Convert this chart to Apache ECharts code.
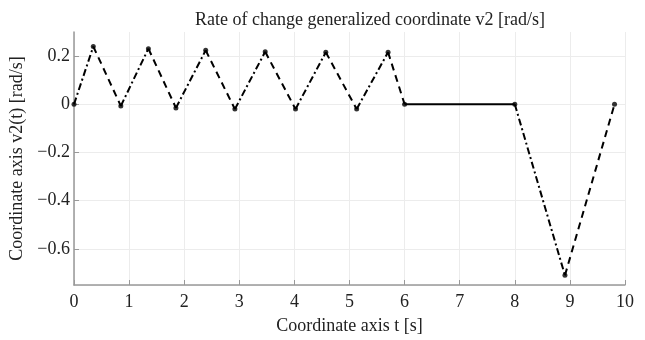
<!DOCTYPE html>
<html>
<head>
<meta charset="utf-8">
<script src="https://cdn.jsdelivr.net/npm/echarts@6/dist/echarts.min.js"></script>
<style>
  html, body { margin: 0; padding: 0; background: #fff; }
  #chart { width: 645px; height: 340px; }
</style>
</head>
<body>
<div id="chart"></div>
<script>
// time points [s] and rate values [rad/s]
const tValues = [0, 0.35, 0.85, 1.35, 1.85, 2.39, 2.92, 3.47, 4.02, 4.57, 5.13, 5.70, 6.0, 8.0, 8.91, 9.81]
const v2Values = [0, 0.24, -0.007, 0.231, -0.015, 0.224, -0.02, 0.218, -0.02, 0.216, -0.02, 0.216, 0, 0, -0.71, 0]
// line pattern of each segment between consecutive points
const segmentKinds = ['dashdot', 'dash', 'dashdot', 'dash', 'dashdot', 'dash', 'dashdot', 'dash', 'dashdot', 'dash', 'dashdot', 'dash', 'solid', 'dashdot', 'dash']
const xTicks = [0, 10, 1]
const yRange = [-0.75, 0.3]

const font = 'Liberation Serif'
const dashTypes = {
  dashdot: [7, 3, 2, 3],
  dash: [7, 5],
  solid: 'solid'
}

const chart = echarts.init(document.getElementById('chart'))

const points = tValues.map((t, i) => [t, v2Values[i]])

const series = segmentKinds.map((kind, i) => ({
  type: 'line',
  data: [points[i], points[i + 1]],
  symbol: 'none',
  silent: true,
  animation: false,
  lineStyle: { color: '#000', width: 2, type: dashTypes[kind] }
}))

series.push({
  type: 'scatter',
  data: points,
  symbol: 'circle',
  symbolSize: 5,
  itemStyle: { color: '#000' },
  animation: false
})

const fmt = (v) => String(Math.round(v * 10) / 10).replace('-', '\u2212')

chart.setOption({
  backgroundColor: '#fff',
  title: {
    text: 'Rate of change generalized coordinate v2 [rad/s]',
    left: 365,
    textAlign: 'center',
    top: 6,
    textStyle: { fontFamily: font, fontSize: 18, fontWeight: 'normal', color: '#222' }
  },
  grid: { left: 74, right: 20, top: 32, bottom: 52 },
  xAxis: {
    type: 'value',
    min: xTicks[0],
    max: xTicks[1],
    interval: xTicks[2],
    name: 'Coordinate axis t [s]',
    nameLocation: 'middle',
    nameGap: 32,
    nameTextStyle: { fontFamily: font, fontSize: 18, color: '#222' },
    axisLine: { onZero: false, lineStyle: { color: '#999', width: 1.5 } },
    axisTick: { inside: true, length: 5, lineStyle: { color: '#999' } },
    axisLabel: { fontFamily: font, fontSize: 18, color: '#222', margin: 8 },
    splitLine: { show: true, lineStyle: { color: '#ececec' } }
  },
  yAxis: {
    type: 'value',
    min: yRange[0],
    max: yRange[1],
    splitNumber: 5,
    name: 'Coordinate axis v2(t) [rad/s]',
    nameLocation: 'middle',
    nameGap: 38,
    nameTextStyle: { fontFamily: font, fontSize: 18, color: '#222' },
    axisLine: { show: true, onZero: false, lineStyle: { color: '#999', width: 1.5 } },
    axisTick: { show: true, inside: true, length: 5, lineStyle: { color: '#999' } },
    axisLabel: {
      fontFamily: font, fontSize: 18, color: '#222', margin: 4,
      showMinLabel: false, showMaxLabel: false,
      formatter: fmt
    },
    splitLine: { show: true, showMaxLine: false, lineStyle: { color: '#ececec' } }
  },
  series: series
})
</script>
</body>
</html>
